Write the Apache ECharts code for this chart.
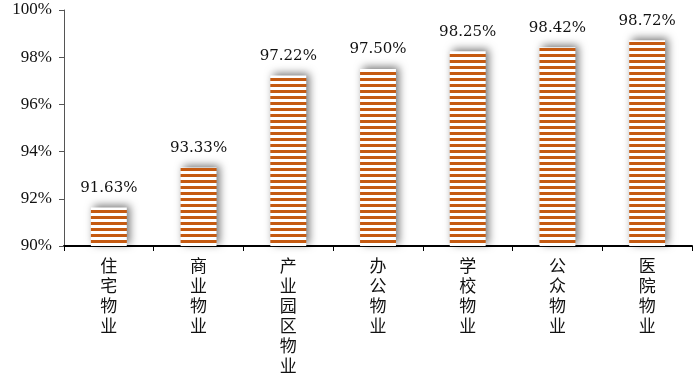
<!DOCTYPE html>
<html><head><meta charset="utf-8">
<script src="https://cdn.jsdelivr.net/npm/echarts@6/dist/echarts.min.js"></script>
<style>html,body{margin:0;padding:0;background:#fff}#c{width:700px;height:377px}</style>
</head><body><div id="c"></div>
<script>
const categories = ['住宅物业','商业物业','产业园区物业','办公物业','学校物业','公众物业','医院物业'];
const values = [91.63, 93.33, 97.22, 97.50, 98.25, 98.42, 98.72];
const yTicks = [90, 92, 94, 96, 98, 100];

const pc = document.createElement('canvas');
pc.width = 4; pc.height = 6;
const g = pc.getContext('2d');
g.fillStyle = '#ffffff'; g.fillRect(0,0,4,6);
g.fillStyle = '#C55A11'; g.fillRect(0,0,4,3);

const chart = echarts.init(document.getElementById('c'), null, {renderer:'canvas'});
chart.setOption({
  animation:false,
  backgroundColor:'#fff',
  grid:{left:64, right:8, top:10, bottom:131, containLabel:false, outerBoundsMode:'none'},
  xAxis:{
    type:'category', data:categories,
    axisLine:{lineStyle:{color:'#000', width:2}},
    axisTick:{show:true, inside:false, length:5, lineStyle:{color:'#000'}},
    axisLabel:{
      interval:0, margin:10, color:'#111',
      fontFamily:'"Noto Sans CJK SC"', fontSize:17, lineHeight:20,
      formatter:v=>v.split('').join('\n')
    }
  },
  yAxis:{
    type:'value', min:yTicks[0], max:yTicks[yTicks.length-1], interval:2,
    axisLine:{show:true, lineStyle:{color:'#555', width:1}},
    axisTick:{show:true, length:5, lineStyle:{color:'#555'}},
    splitLine:{show:false},
    axisLabel:{color:'#111', fontFamily:'"Liberation Serif"', fontSize:17, margin:12, formatter:'{value}%'}
  },
  series:[{
    type:'bar', data:values, barWidth:'40%',
    itemStyle:{
      color:{image:pc, repeat:'repeat'},
      shadowColor:'rgba(0,0,0,0.55)', shadowBlur:8, shadowOffsetX:3, shadowOffsetY:-2
    },
    label:{
      show:true, position:'top', distance:12, color:'#111',
      fontFamily:'"DejaVu Serif"', fontSize:15,
      formatter:p=>p.value.toFixed(2)+'%'
    }
  }]
});
</script></body></html>
